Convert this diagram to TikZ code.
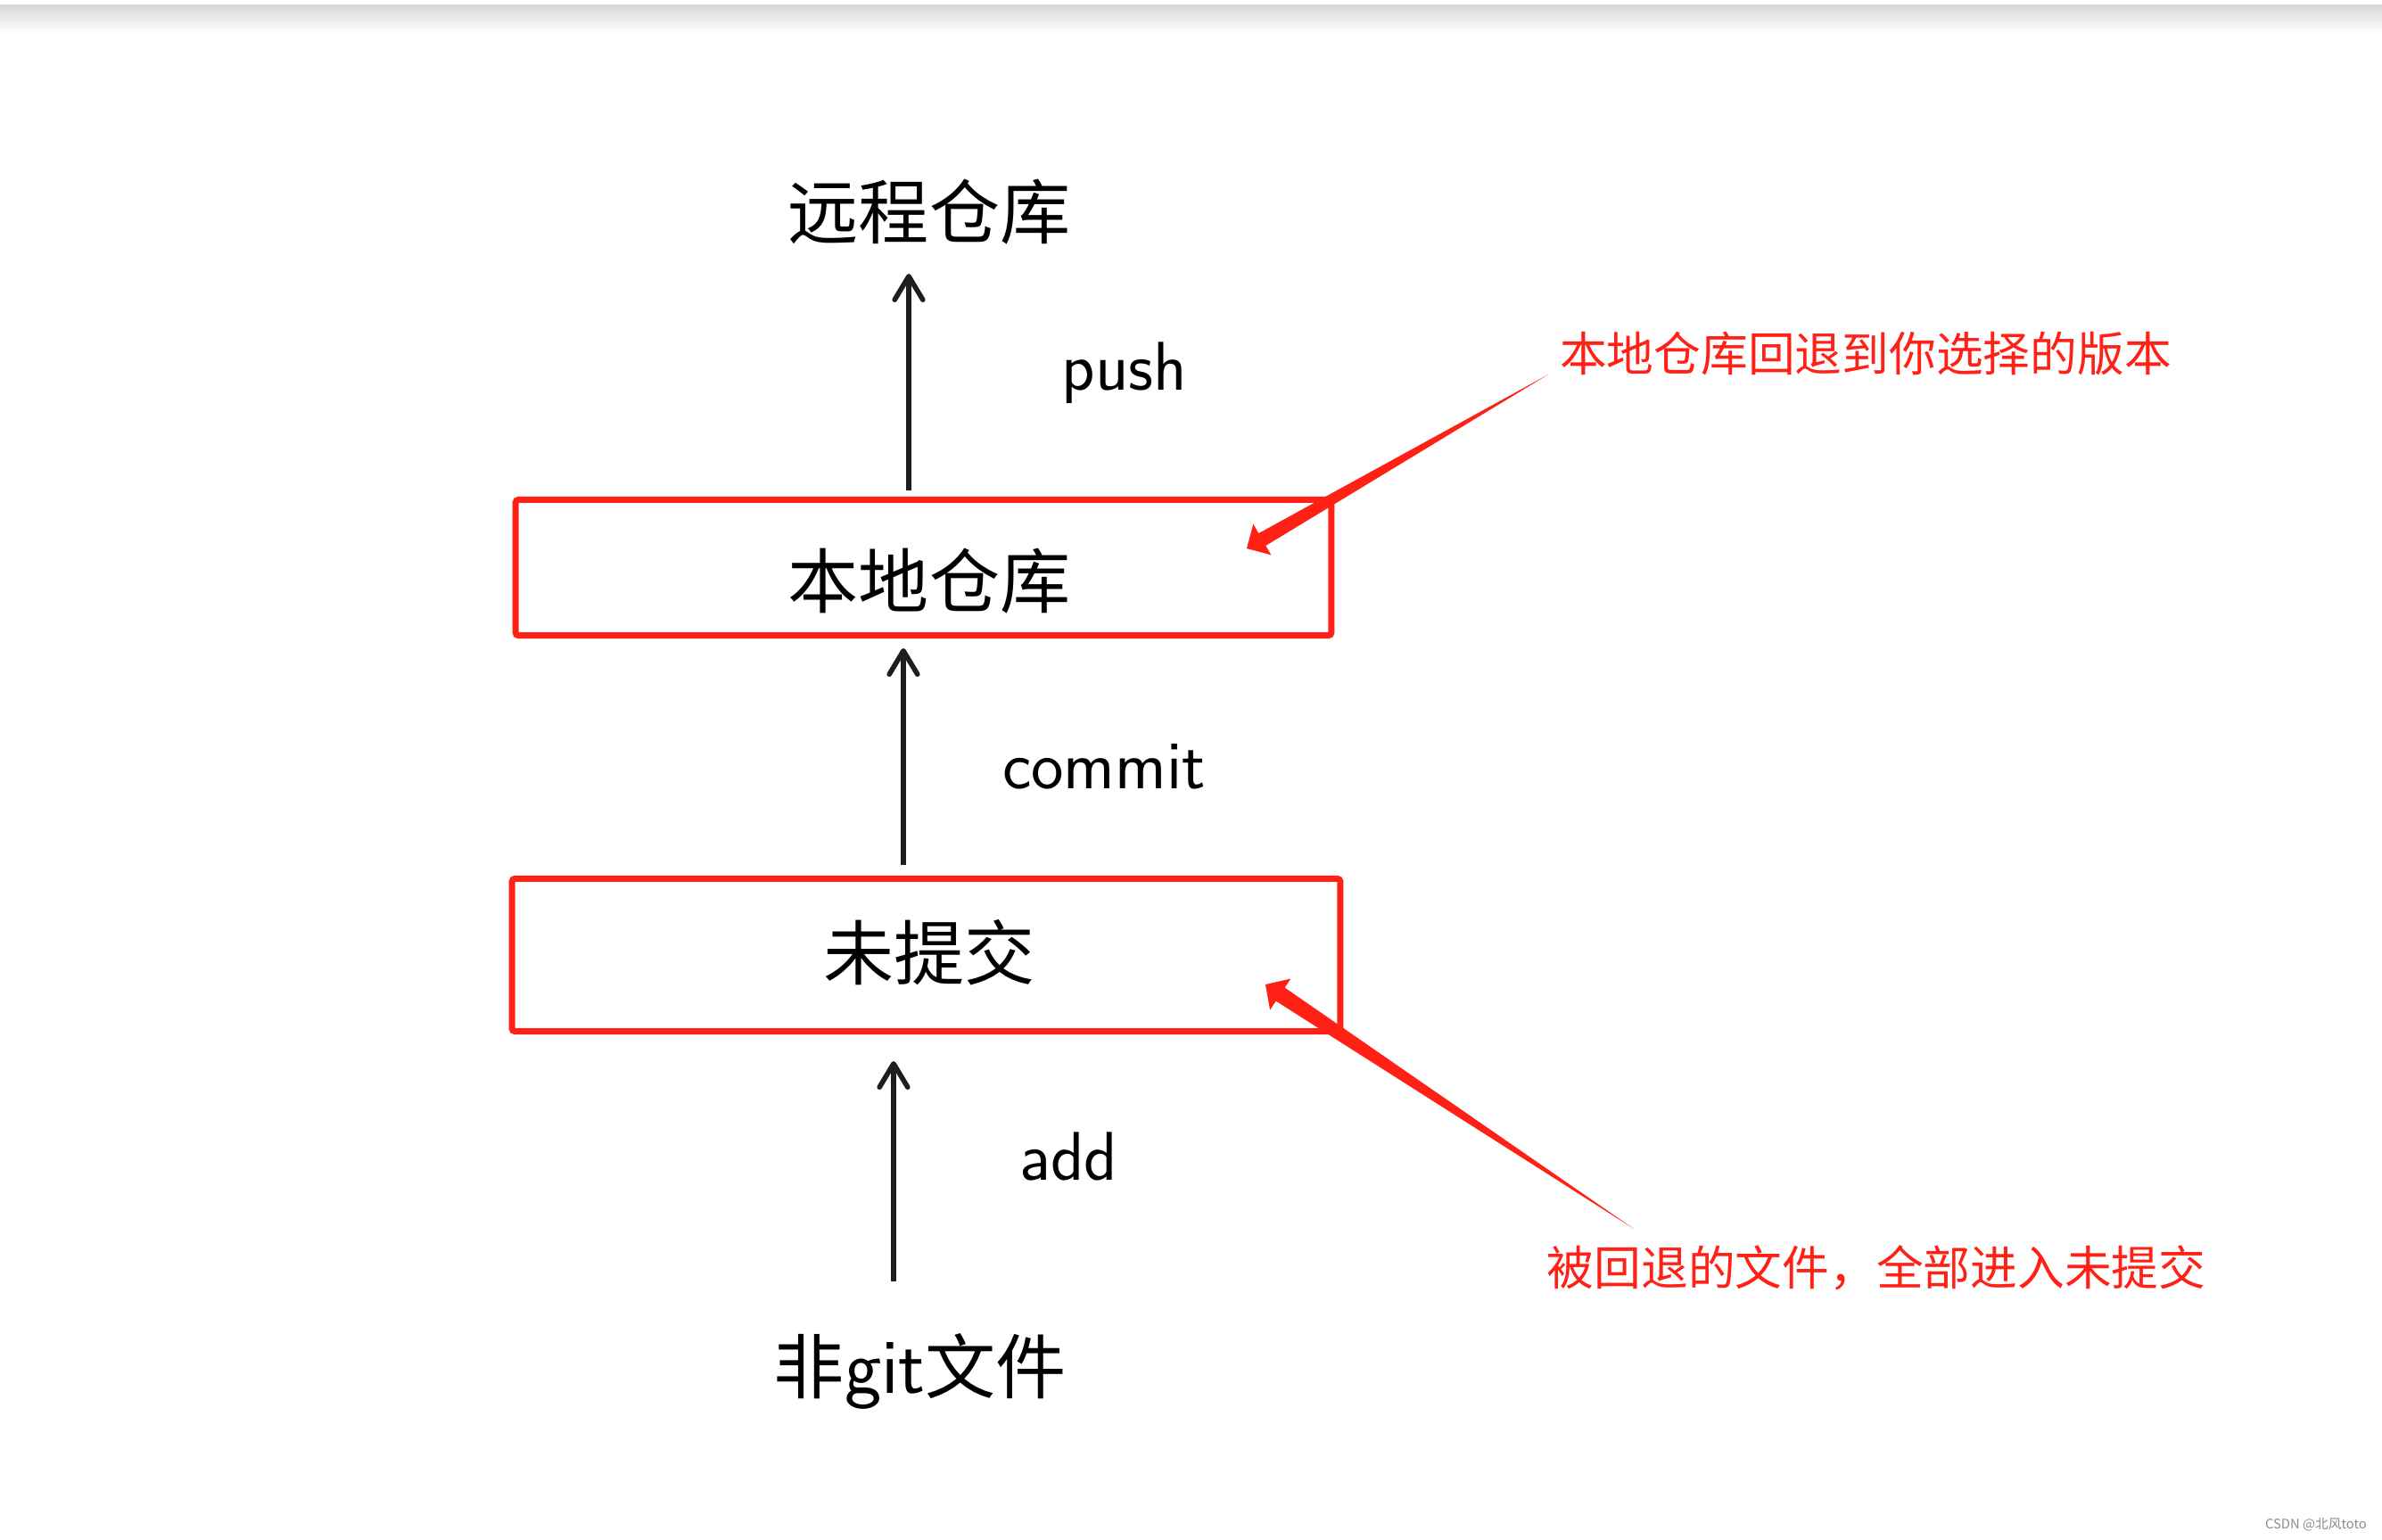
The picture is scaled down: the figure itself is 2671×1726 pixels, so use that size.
\documentclass[tikz,border=0pt]{standalone}
\usepackage{fontspec}
\newfontfamily\cjk{Noto Sans CJK SC}
\usetikzlibrary{arrows.meta,calc}
\definecolor{boxred}{RGB}{255,32,22}
\definecolor{ink}{RGB}{30,30,30}
\begin{document}
\begin{tikzpicture}[x=0.01cm,y=-0.01cm,
  box/.style={draw=boxred, line width=0.07cm, rounded corners=0.03cm, inner sep=0pt},
  bigcjk/.style={font=\cjk\fontsize{22.5pt}{26pt}\selectfont, inner sep=0pt},
  hand/.style={font=\sffamily\fontsize{22pt}{26pt}\selectfont, inner sep=0pt, anchor=base},
  note/.style={font=\cjk\fontsize{15pt}{18pt}\selectfont, text=boxred, inner sep=0pt},
  flow/.style={draw=ink, line width=0.056cm, -{Straight Barb[length=7.5pt,width=9pt,round]}},
  annot/.style={fill=boxred}]
\useasboundingbox (0,0) rectangle (2671,1726);
\fill[white] (0,0) rectangle (2671,1726);
\shade[top color=black!16, bottom color=white] (0,5) rectangle (2671,38);

% main nodes
\node[bigcjk] (remote) at (1042,238) {远程仓库};
\node[box, minimum width=9.14cm, minimum height=1.52cm] (local) at (1035.5,636.5) {};
\node[bigcjk] (localtxt) at (1042,652) {本地仓库};
\node[box, minimum width=9.28cm, minimum height=1.71cm] (staged) at (1038.5,1071) {};
\node[bigcjk] (stagedtxt) at (1042,1068) {未提交};
\node[bigcjk] (files) at (1032,1538) {非{\sffamily\fontsize{25pt}{28pt}\selectfont git}文件};

% labels
\node[hand] (pushlbl) at (1261,437) {push};
\node[hand] (commitlbl) at (1238,884) {commit};
\node[hand] (addlbl) at (1198,1323) {add};

% black arrows
\coordinate (pushtip) at (1019,307);
\draw[flow, shorten <=0.07cm] (local.north -| pushtip) -- (pushtip);
\coordinate (committip) at (1013,727);
\draw[flow, shorten <=0.12cm] (staged.north -| committip) -- (committip);
\coordinate (addtail) at (1002,1437);
\coordinate (addtip) at (1002,1190);
\draw[flow] (addtail) -- (addtip);

% annotations
\node[note] (note1) at (2092,396) {本地仓库回退到你选择的版本};
\node[note] (note2) at (2104,1422) {被回退的文件，全部进入未提交};

\coordinate (a1tail) at (1736,420);
\coordinate (a1tip) at (1398,615);
\coordinate (a1base) at ($(a1tip)!0.2cm!(a1tail)$);
\fill[annot] (a1tail) -- ($(a1base)!0.08cm!90:(a1tail)$) -- ($(a1base)!0.2cm!90:(a1tail)$) -- (a1tip)
  -- ($(a1base)!0.2cm!-90:(a1tail)$) -- ($(a1base)!0.08cm!-90:(a1tail)$) -- cycle;

\coordinate (a2tail) at (1832,1378);
\coordinate (a2tip) at (1419,1104);
\coordinate (a2base) at ($(a2tip)!0.2cm!(a2tail)$);
\fill[annot] (a2tail) -- ($(a2base)!0.09cm!90:(a2tail)$) -- ($(a2base)!0.21cm!90:(a2tail)$) -- (a2tip)
  -- ($(a2base)!0.21cm!-90:(a2tail)$) -- ($(a2base)!0.09cm!-90:(a2tail)$) -- cycle;

% watermark
\node[font=\cjk\fontsize{4.2pt}{5pt}\selectfont, text=black!45, inner sep=0pt] (wm) at (2597,1710) {CSDN @北风toto};
\end{tikzpicture}
\end{document}
